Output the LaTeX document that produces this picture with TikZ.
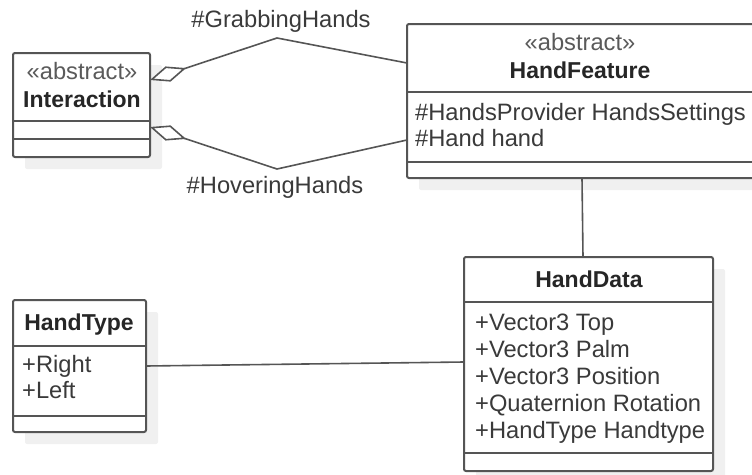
\documentclass[tikz,border=0pt]{standalone}
\usepackage{fontspec}
\setmainfont{Liberation Sans}
\usetikzlibrary{arrows.meta,shadows}

\definecolor{edgegray}{HTML}{555555}
\definecolor{textgray}{HTML}{3A3A3A}
\definecolor{titlegray}{HTML}{262626}
\definecolor{stereogray}{HTML}{5A5A5A}
\definecolor{shadowgray}{HTML}{F0F0F0}

\tikzset{
  classbox/.style={draw=edgegray, line width=2pt, fill=white, rounded corners=2pt,
    anchor=north west, inner sep=0pt, outer sep=0pt,
    drop shadow={shadow xshift=12pt, shadow yshift=-12pt, fill=shadowgray, opacity=1}},
  divider/.style={draw=edgegray, line width=2pt},
  link/.style={draw=edgegray, line width=1.6pt, line join=miter},
  aggr/.style={link, -{Diamond[length=38pt, width=16pt, fill=white, line join=miter]}},
  txt/.style={inner sep=0pt, text=textgray, font=\fontsize{23.7}{27}\selectfont},
  attr/.style={txt, anchor=base west},
  title/.style={txt, anchor=base, text=titlegray, font=\fontsize{23}{27}\selectfont\bfseries},
  stereo/.style={txt, anchor=base, text=stereogray},
}

\begin{document}
\begin{tikzpicture}[x=1pt, y=-1pt]
\useasboundingbox (0,0) rectangle (752,474);
\clip (0,0) rectangle (752,474);

% Interaction
\node[classbox, minimum width=137pt, minimum height=104pt] (interaction) at (13,53) {};
\draw[divider] (13,121) -- (150,121);
\draw[divider] (13,139) -- (150,139);
\node[stereo] (interactionst) at (82,79) {«abstract»};
\node[title] (interactiontt) at (82,107) {Interaction};

% HandFeature
\node[classbox, minimum width=363pt, minimum height=154pt] (handfeature) at (407,24) {};
\draw[divider] (407,92) -- (770,92);
\draw[divider] (407,162) -- (770,162);
\node[stereo] (handfeaturest) at (580,50) {«abstract»};
\node[title] (handfeaturett) at (580,78) {HandFeature};
\node[attr] (hfa1) at (415,120) {\#HandsProvider HandsSettings};
\node[attr] (hfa2) at (415,146) {\#Hand hand};

% HandData
\node[classbox, minimum width=249pt, minimum height=214pt] (handdata) at (464,257) {};
\draw[divider] (464,302) -- (713,302);
\draw[divider] (464,453) -- (713,453);
\node[title] (handdatatt) at (589,287) {HandData};
\node[attr] (hda1) at (475,330) {+Vector3 Top};
\node[attr] (hda2) at (475,357) {+Vector3 Palm};
\node[attr] (hda3) at (475,384) {+Vector3 Position};
\node[attr] (hda4) at (475,411) {+Quaternion Rotation};
\node[attr] (hda5) at (475,438) {+HandType Handtype};

% HandType
\node[classbox, minimum width=133pt, minimum height=132pt] (handtype) at (13,300) {};
\draw[divider] (13,346) -- (146,346);
\draw[divider] (13,416) -- (146,416);
\node[title] (handtypett) at (79,330) {HandType};
\node[attr] (hta1) at (22,372) {+Right};
\node[attr] (hta2) at (22,398) {+Left};

% aggregations from HandFeature to Interaction
\coordinate (grabbend) at (277,38);
\coordinate (hoverbend) at (277,169);
\draw[aggr] (handfeature.west |- 0,63) -- (grabbend) -- (interaction.east |- 0,80);
\draw[aggr] (handfeature.west |- 0,140) -- (hoverbend) -- (interaction.east |- 0,127);
\node[txt, anchor=base] (grablabel) at (281,27) {\#GrabbingHands};
\node[txt, anchor=base] (hoverlabel) at (275,193) {\#HoveringHands};

% plain associations
\draw[link] (582,0 |- handfeature.south) -- (583,0 |- handdata.north);
\draw[link] (handtype.east |- 0,366) -- (handdata.west |- 0,362);
\end{tikzpicture}
\end{document}
